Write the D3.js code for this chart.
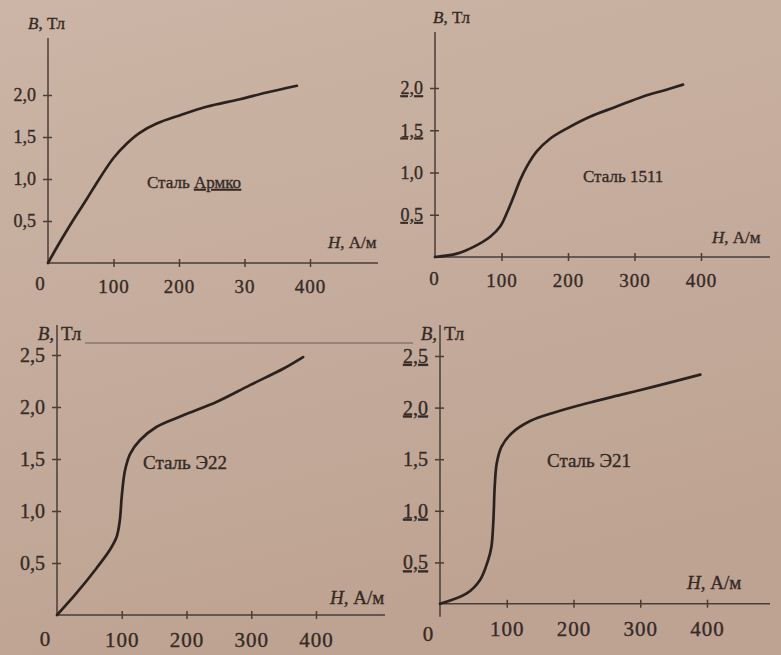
<!DOCTYPE html>
<meta charset="utf-8">
<style>

body {
  margin: 0;
  background: #c6ad9c;
}

text {
  font-family: "Liberation Serif", "Times New Roman", serif;
  fill: #352a26;
  stroke: #352a26;
  stroke-width: 0.35;
}

.curve {
  fill: none;
  stroke: #2b221f;
  stroke-width: 2.7;
  stroke-linecap: round;
}

.axis path,
.axis line {
  stroke: #4a3c36;
  stroke-width: 1.5;
}

</style>
<body>
<script src="https://cdnjs.cloudflare.com/ajax/libs/d3/7.8.5/d3.min.js"></script>
<script>

// magnetisation curves B(H)
var armcoH = [0, 16, 36, 59, 79, 100, 120, 140, 166, 202, 242, 293, 334, 380],
    armcoB = [0, 0.22, 0.48, 0.76, 1.01, 1.25, 1.42, 1.55, 1.66, 1.76, 1.86, 1.95, 2.03, 2.11];

var s1511H = [0, 33, 58, 83, 98, 108, 118, 128, 138, 153, 173, 198, 233, 273, 313, 348, 373],
    s1511B = [0, 0.04, 0.12, 0.24, 0.36, 0.52, 0.71, 0.91, 1.07, 1.25, 1.40, 1.52, 1.66, 1.78, 1.90, 1.98, 2.04];

var e22H = [0, 30, 61, 82, 92, 97, 100, 105, 113, 128, 154, 195, 247, 298, 350, 380],
    e22B = [0, 0.21, 0.45, 0.63, 0.75, 0.91, 1.14, 1.39, 1.55, 1.68, 1.81, 1.92, 2.05, 2.21, 2.37, 2.48];

var e21H = [0, 40, 60, 72, 77, 80, 82, 85, 92, 107, 135, 175, 225, 275, 325, 390],
    e21B = [0.1, 0.20, 0.33, 0.52, 0.65, 0.91, 1.24, 1.46, 1.62, 1.75, 1.87, 1.96, 2.05, 2.13, 2.21, 2.32];

var hTicks = [100, 200, 300, 400],
    hLabelsArmco = ["100", "200", "30", "400"],   // the misprint "30" is on the page
    hLabels = ["100", "200", "300", "400"],
    bTicksTop = [0.5, 1.0, 1.5, 2.0],
    bTicksBottom = [0.5, 1.0, 1.5, 2.0, 2.5];

var width = 781,
    height = 655;

var panels = [
  { H: armcoH, B: armcoB, name: "Сталь ", nameU: "Армко", hLab: hLabelsArmco, bTicks: bTicksTop,
    xr: [48, 310], yd: [0, 2], yr: [263, 95], top: 38, xEnd: 378, base: 0, below: 0,
    fs: 19, fsName: 17, under: [], split: false,
    bAt: [28, 23], hAt: [328, 242], nameAt: [147, 182], zeroAt: [40, 283] },
  { H: s1511H, B: s1511B, name: "Сталь 1511", nameU: "", hLab: hLabels, bTicks: bTicksTop,
    xr: [435, 701], yd: [0, 2], yr: [257, 88], top: 32, xEnd: 770, base: 0, below: 0,
    fs: 19, fsName: 17, under: [0.5, 1.5, 2.0], split: false,
    bAt: [433, 17], hAt: [712, 237], nameAt: [583, 176], zeroAt: [434, 278] },
  { H: e22H, B: e22B, name: "Сталь Э22", nameU: "", hLab: hLabels, bTicks: bTicksBottom,
    xr: [57, 316], yd: [0, 2.5], yr: [615, 355], top: 325, xEnd: 385, base: 0, below: 0,
    fs: 21, fsName: 19, under: [], split: true,
    bAt: [0, 333], hAt: [330, 597], nameAt: [143, 462], zeroAt: [45, 639] },
  { H: e21H, B: e21B, name: "Сталь Э21", nameU: "", hLab: hLabels, bTicks: bTicksBottom,
    xr: [440, 707], yd: [0, 2.5], yr: [614, 356], top: 325, xEnd: 770, base: 0.1, below: 13,
    fs: 21, fsName: 19, under: [0.5, 1.0, 2.0, 2.5], split: true,
    bAt: [0, 333], hAt: [687, 582], nameAt: [547, 460], zeroAt: [428, 634] }
];

var svg = d3.select("body").append("svg")
    .attr("width", width)
    .attr("height", height);

// paper
var grad = svg.append("defs").append("linearGradient")
    .attr("id", "paper")
    .attr("x1", 0).attr("y1", 0).attr("x2", 0.3).attr("y2", 1);
grad.append("stop").attr("offset", 0).attr("stop-color", "#ccb5a6");
grad.append("stop").attr("offset", 1).attr("stop-color", "#bea392");

svg.append("rect")
    .attr("width", width)
    .attr("height", height)
    .attr("fill", "url(#paper)");

// stray printed rule across the lower half of the page
svg.append("line")
    .attr("x1", 85).attr("x2", 413)
    .attr("y1", 343).attr("y2", 343)
    .attr("stroke", "#6d5b52")
    .attr("stroke-width", 1.2);

panels.forEach(function(p) {

  var x = d3.scaleLinear().domain([0, 400]).range(p.xr),
      y = d3.scaleLinear().domain(p.yd).range(p.yr);

  var g = svg.append("g");
  var ox = x(0), oy = y(p.base);

  // axis lines
  g.append("line")
      .attr("x1", ox).attr("x2", ox)
      .attr("y1", p.top).attr("y2", oy + p.below)
      .attr("stroke", "#4a3c36").attr("stroke-width", 1.5);
  g.append("line")
      .attr("x1", ox).attr("x2", p.xEnd)
      .attr("y1", oy).attr("y2", oy)
      .attr("stroke", "#4a3c36").attr("stroke-width", 1.5);

  // H axis
  var xa = g.append("g")
      .attr("class", "axis")
      .attr("transform", "translate(0," + oy + ")")
      .call(d3.axisBottom(x)
          .tickValues(hTicks)
          .tickFormat(function(d, i) { return p.hLab[i]; })
          .tickSize(5)
          .tickPadding(12));
  xa.select(".domain").remove();
  xa.selectAll(".tick line").attr("y1", -4).attr("y2", 4);
  xa.selectAll(".tick text")
      .style("font-size", p.fs + "px")
      .style("font-family", "'Liberation Serif', serif")
      .attr("fill", "#352a26")
      .attr("letter-spacing", "1px");

  // B axis
  var ya = g.append("g")
      .attr("class", "axis")
      .attr("transform", "translate(" + ox + ",0)")
      .call(d3.axisLeft(y)
          .tickValues(p.bTicks)
          .tickSize(5)
          .tickPadding(7));
  ya.select(".domain").remove();
  ya.selectAll(".tick line").attr("x1", -5).attr("x2", 4);
  ya.selectAll(".tick text")
      .text(function(d) { return d3.format(".1f")(d).replace(".", ","); })
      .style("font-size", (p.fs - 1) + "px")
      .style("font-family", "'Liberation Serif', serif")
      .attr("fill", "#352a26")
      .style("text-decoration", function(d) { return p.under.indexOf(d) >= 0 ? "underline" : null; });

  g.append("text")
      .attr("x", p.zeroAt[0]).attr("y", p.zeroAt[1])
      .attr("dy", "0.35em")
      .attr("text-anchor", "middle")
      .style("font-size", p.fs + "px")
      .text("0");

  // axis titles; on the lower plots the axis runs up between "B," and "Тл"
  if (p.split) {
    g.append("text")
        .attr("x", ox - 3).attr("y", p.bAt[1])
        .attr("dy", "0.35em")
        .attr("text-anchor", "end")
        .style("font-size", (p.fs - 2) + "px")
        .style("font-style", "italic")
        .text("B,");
    g.append("text")
        .attr("x", ox + 4).attr("y", p.bAt[1])
        .attr("dy", "0.35em")
        .style("font-size", (p.fs - 2) + "px")
        .text("Тл");
  } else {
    var bt = g.append("text")
        .attr("x", p.bAt[0]).attr("y", p.bAt[1])
        .attr("dy", "0.35em")
        .style("font-size", (p.fs - 2) + "px");
    bt.append("tspan").style("font-style", "italic").text("B");
    bt.append("tspan").text(", Тл");
  }

  var ht = g.append("text")
      .attr("x", p.hAt[0]).attr("y", p.hAt[1])
      .attr("dy", "0.35em")
      .style("font-size", (p.fs - 2) + "px");
  ht.append("tspan").style("font-style", "italic").text("H");
  ht.append("tspan").text(", А/м");

  // curve
  var pts = p.H.map(function(h, i) { return [h, p.B[i]]; });
  g.append("path")
      .datum(pts)
      .attr("class", "curve")
      .attr("d", d3.line()
          .x(function(d) { return x(d[0]); })
          .y(function(d) { return y(d[1]); })
          .curve(d3.curveCatmullRom.alpha(0.5)));

  // steel grade
  var nt = g.append("text")
      .attr("x", p.nameAt[0]).attr("y", p.nameAt[1])
      .attr("dy", "0.35em")
      .style("font-size", p.fsName + "px");
  nt.append("tspan").text(p.name);
  if (p.nameU) nt.append("tspan").style("text-decoration", "underline").text(p.nameU);
});

</script>
